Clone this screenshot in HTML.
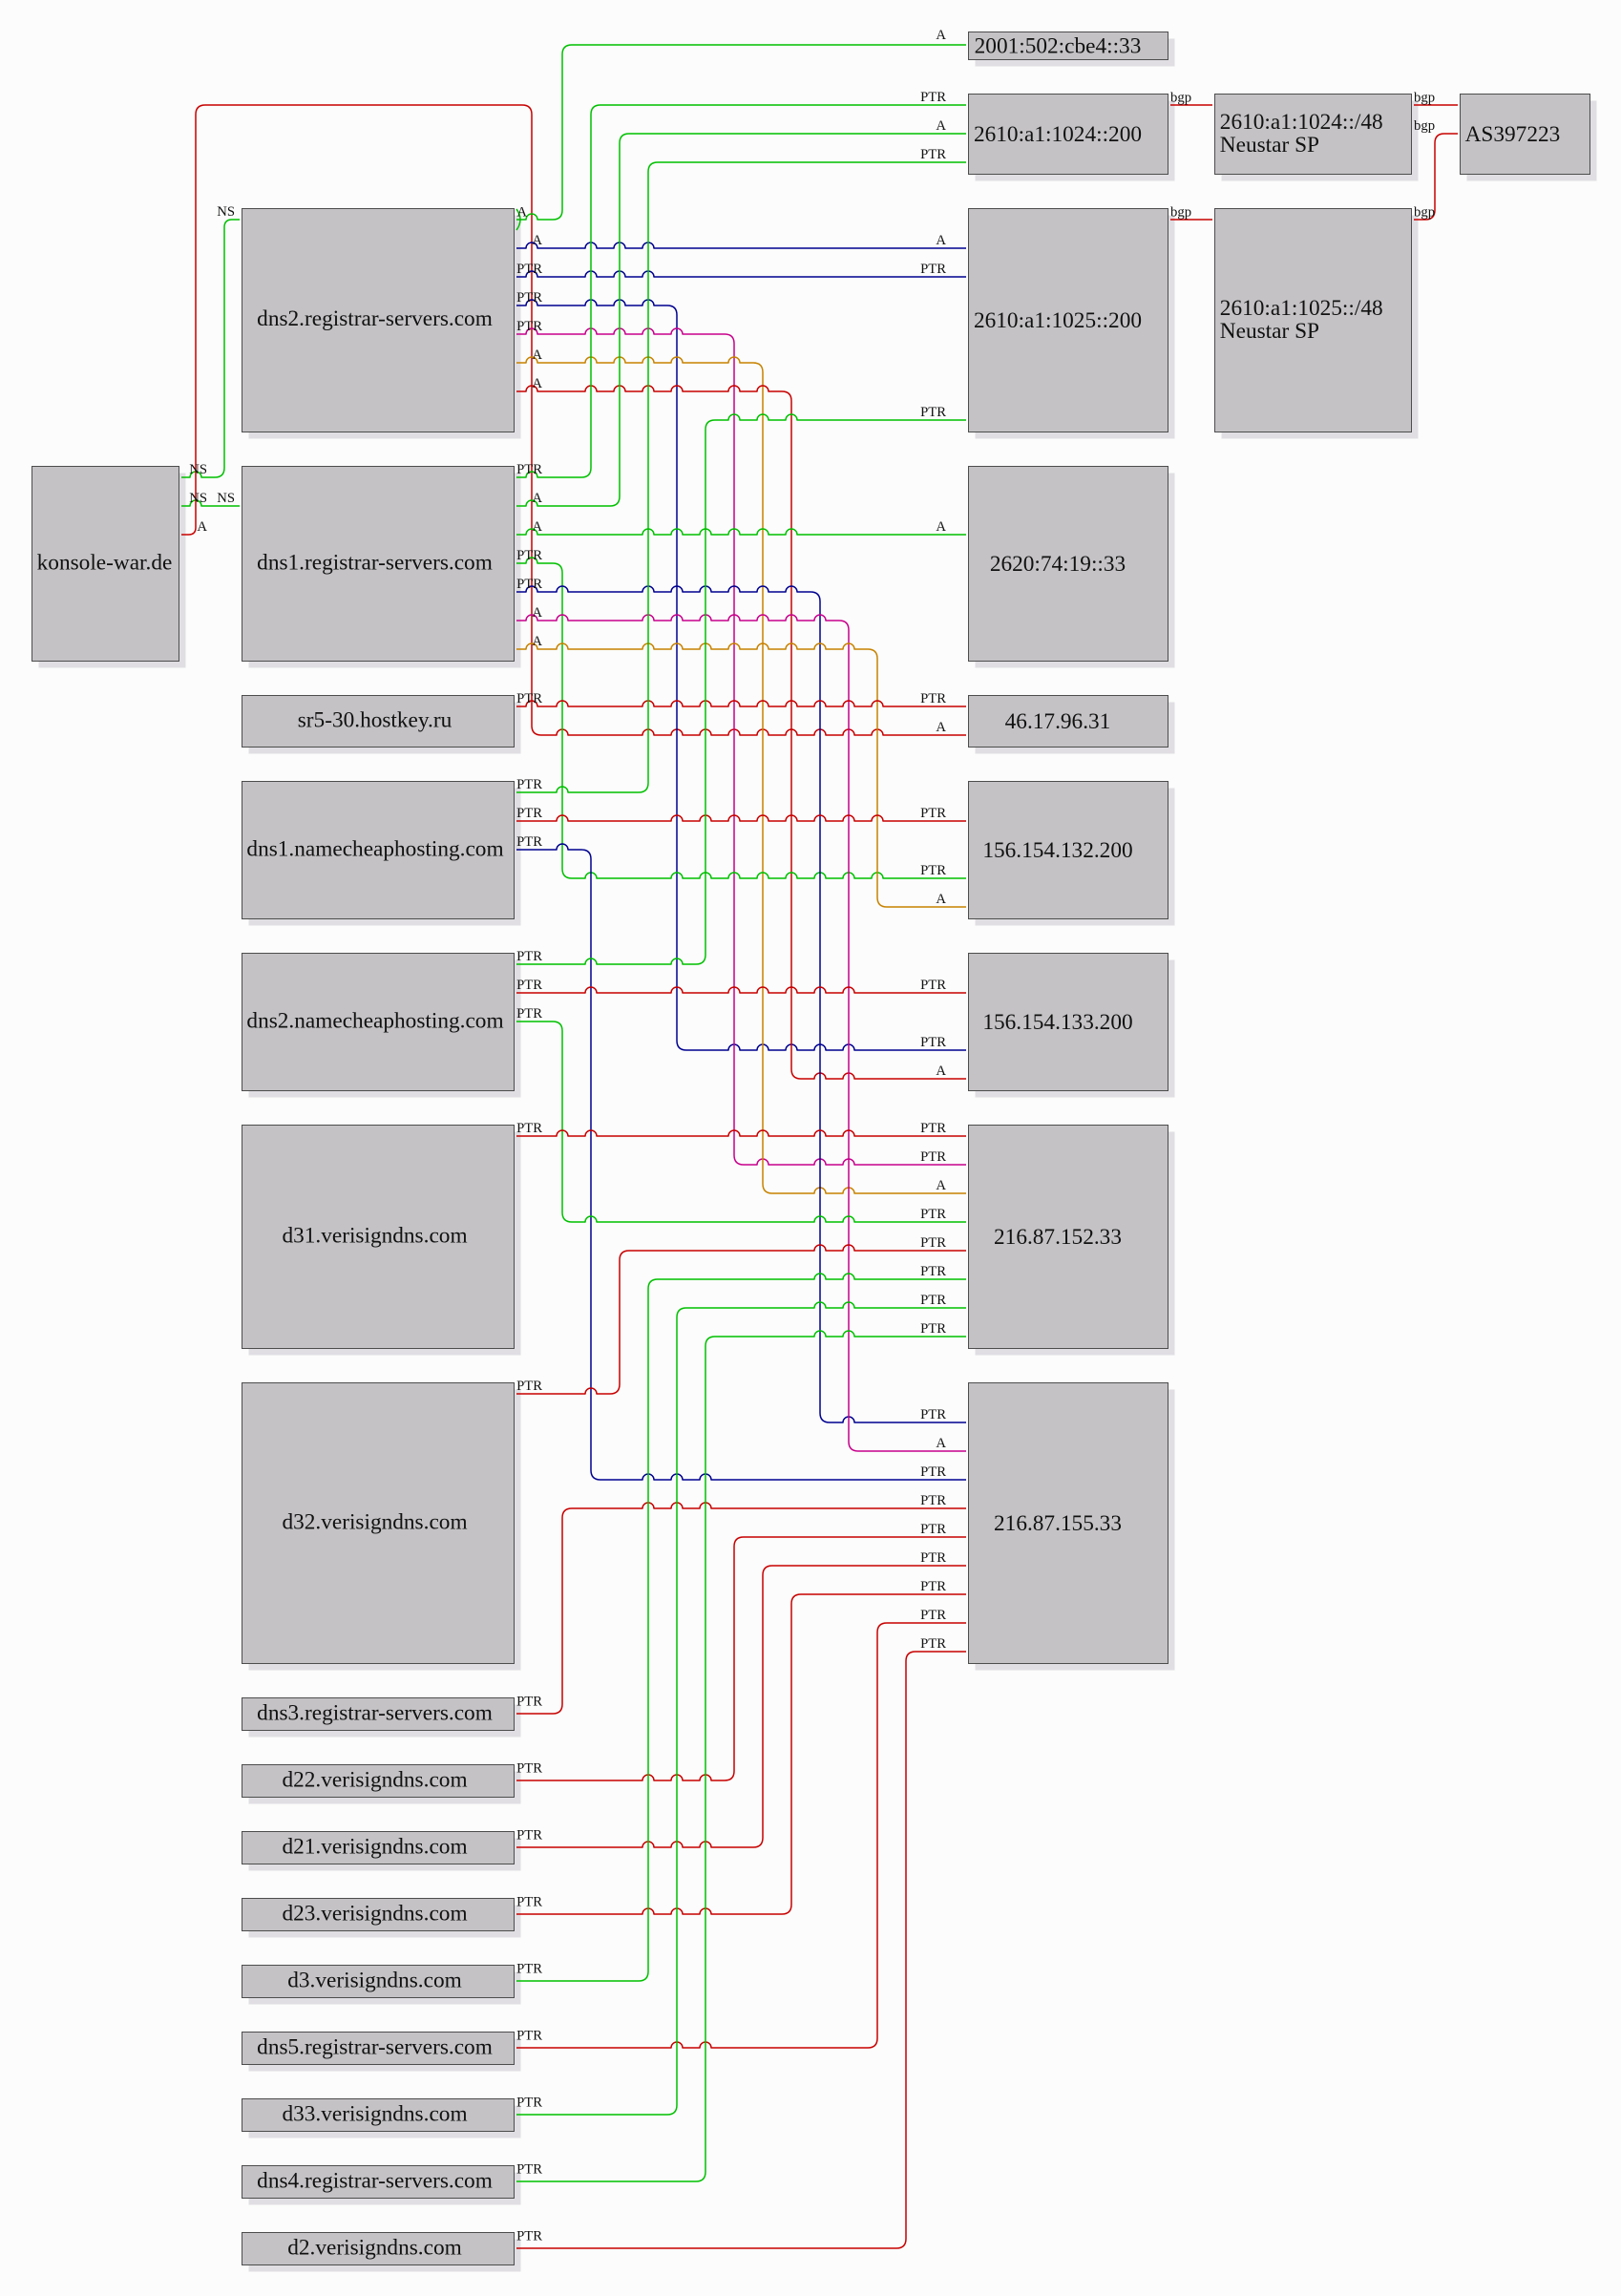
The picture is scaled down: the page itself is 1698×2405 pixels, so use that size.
<!DOCTYPE html>
<html>
<head>
<meta charset="utf-8">
<style>
html,body{margin:0;padding:0;background:#fbfcfb;}
svg{display:block;}
.bt{font-family:"Liberation Serif",serif;font-size:23.3px;fill:#111;}
.lb{font-family:"Liberation Serif",serif;font-size:14.7px;fill:#111;}
</style>
</head>
<body>
<svg id="svg" width="1698" height="2405" viewBox="0 0 1698 2405" xmlns="http://www.w3.org/2000/svg">
<rect x="0" y="0" width="1698" height="2405" fill="#fbfcfb"/>
<g fill="#e0dee3">
<rect x="40.5" y="495.5" width="154" height="204"/>
<rect x="260.5" y="225.5" width="285" height="234"/>
<rect x="260.5" y="495.5" width="285" height="204"/>
<rect x="260.5" y="735.5" width="285" height="54"/>
<rect x="260.5" y="825.5" width="285" height="144"/>
<rect x="260.5" y="1005.5" width="285" height="144"/>
<rect x="260.5" y="1185.5" width="285" height="234"/>
<rect x="260.5" y="1455.5" width="285" height="294"/>
<rect x="260.5" y="1785.5" width="285" height="34"/>
<rect x="260.5" y="1855.5" width="285" height="34"/>
<rect x="260.5" y="1925.5" width="285" height="34"/>
<rect x="260.5" y="1995.5" width="285" height="34"/>
<rect x="260.5" y="2065.5" width="285" height="34"/>
<rect x="260.5" y="2135.5" width="285" height="34"/>
<rect x="260.5" y="2205.5" width="285" height="34"/>
<rect x="260.5" y="2275.5" width="285" height="34"/>
<rect x="260.5" y="2345.5" width="285" height="34"/>
<rect x="1021.5" y="40.5" width="209" height="29"/>
<rect x="1021.5" y="105.5" width="209" height="84"/>
<rect x="1021.5" y="225.5" width="209" height="234"/>
<rect x="1021.5" y="495.5" width="209" height="204"/>
<rect x="1021.5" y="735.5" width="209" height="54"/>
<rect x="1021.5" y="825.5" width="209" height="144"/>
<rect x="1021.5" y="1005.5" width="209" height="144"/>
<rect x="1021.5" y="1185.5" width="209" height="234"/>
<rect x="1021.5" y="1455.5" width="209" height="294"/>
<rect x="1279.5" y="105.5" width="206" height="84"/>
<rect x="1279.5" y="225.5" width="206" height="234"/>
<rect x="1536.5" y="105.5" width="136" height="84"/>
</g>
<g fill="#c4c2c5" stroke="#4d4d4d" stroke-width="1">
<rect x="33.5" y="488.5" width="154" height="204"/>
<rect x="253.5" y="218.5" width="285" height="234"/>
<rect x="253.5" y="488.5" width="285" height="204"/>
<rect x="253.5" y="728.5" width="285" height="54"/>
<rect x="253.5" y="818.5" width="285" height="144"/>
<rect x="253.5" y="998.5" width="285" height="144"/>
<rect x="253.5" y="1178.5" width="285" height="234"/>
<rect x="253.5" y="1448.5" width="285" height="294"/>
<rect x="253.5" y="1778.5" width="285" height="34"/>
<rect x="253.5" y="1848.5" width="285" height="34"/>
<rect x="253.5" y="1918.5" width="285" height="34"/>
<rect x="253.5" y="1988.5" width="285" height="34"/>
<rect x="253.5" y="2058.5" width="285" height="34"/>
<rect x="253.5" y="2128.5" width="285" height="34"/>
<rect x="253.5" y="2198.5" width="285" height="34"/>
<rect x="253.5" y="2268.5" width="285" height="34"/>
<rect x="253.5" y="2338.5" width="285" height="34"/>
<rect x="1014.5" y="33.5" width="209" height="29"/>
<rect x="1014.5" y="98.5" width="209" height="84"/>
<rect x="1014.5" y="218.5" width="209" height="234"/>
<rect x="1014.5" y="488.5" width="209" height="204"/>
<rect x="1014.5" y="728.5" width="209" height="54"/>
<rect x="1014.5" y="818.5" width="209" height="144"/>
<rect x="1014.5" y="998.5" width="209" height="144"/>
<rect x="1014.5" y="1178.5" width="209" height="234"/>
<rect x="1014.5" y="1448.5" width="209" height="294"/>
<rect x="1272.5" y="98.5" width="206" height="84"/>
<rect x="1272.5" y="218.5" width="206" height="234"/>
<rect x="1529.5" y="98.5" width="136" height="84"/>
</g>
<g id="edges" fill="none" stroke-width="1.5" stroke-linejoin="round"></g>
<path d="M541 241 Q549 230 541 219" fill="none" stroke="#00c000" stroke-width="1.5"/>

<g class="bt" text-anchor="middle">
<text x="109.5" y="596.5">konsole-war.de</text>
<text x="392.5" y="341">dns2.registrar-servers.com</text>
<text x="392.5" y="596.5">dns1.registrar-servers.com</text>
<text x="392.5" y="761.5">sr5-30.hostkey.ru</text>
<text x="393" y="896.5">dns1.namecheaphosting.com</text>
<text x="393" y="1076.5">dns2.namecheaphosting.com</text>
<text x="392.5" y="1301.5">d31.verisigndns.com</text>
<text x="392.5" y="1601.5">d32.verisigndns.com</text>
<text x="392.5" y="1801.5">dns3.registrar-servers.com</text>
<text x="392.5" y="1871.5">d22.verisigndns.com</text>
<text x="392.5" y="1941.5">d21.verisigndns.com</text>
<text x="392.5" y="2011.5">d23.verisigndns.com</text>
<text x="392.5" y="2081.5">d3.verisigndns.com</text>
<text x="392.5" y="2151.5">dns5.registrar-servers.com</text>
<text x="392.5" y="2221.5">d33.verisigndns.com</text>
<text x="392.5" y="2291.5">dns4.registrar-servers.com</text>
<text x="392.5" y="2361.5">d2.verisigndns.com</text>
<text x="1108" y="55.5">2001:502:cbe4::33</text>
<text x="1108" y="148">2610:a1:1024::200</text>
<text x="1108" y="342.8">2610:a1:1025::200</text>
<text x="1108" y="598">2620:74:19::33</text>
<text x="1108" y="762.9">46.17.96.31</text>
<text x="1108" y="897.9">156.154.132.200</text>
<text x="1108" y="1077.9">156.154.133.200</text>
<text x="1108" y="1302.9">216.87.152.33</text>
<text x="1108" y="1602.9">216.87.155.33</text>
</g>
<g class="bt">
<text x="1277.8" y="135">2610:a1:1024::/48</text>
<text x="1277.8" y="159">Neustar SP</text>
<text x="1277.8" y="330">2610:a1:1025::/48</text>
<text x="1277.8" y="354">Neustar SP</text>
<text x="1534.6" y="148">AS397223</text>
</g>

<g class="lb" text-anchor="end">
<text x="552" y="226.5">A</text>
<text x="568" y="256">A</text>
<text x="568" y="286">PTR</text>
<text x="568" y="316">PTR</text>
<text x="568" y="346">PTR</text>
<text x="568" y="376">A</text>
<text x="568" y="406">A</text>
<text x="568" y="496">PTR</text>
<text x="568" y="526">A</text>
<text x="568" y="556">A</text>
<text x="568" y="586">PTR</text>
<text x="568" y="616">PTR</text>
<text x="568" y="646">A</text>
<text x="568" y="676">A</text>
<text x="568" y="736">PTR</text>
<text x="568" y="826">PTR</text>
<text x="568" y="856">PTR</text>
<text x="568" y="886">PTR</text>
<text x="568" y="1006">PTR</text>
<text x="568" y="1036">PTR</text>
<text x="568" y="1066">PTR</text>
<text x="568" y="1186">PTR</text>
<text x="568" y="1456">PTR</text>
<text x="568" y="1786.5">PTR</text>
<text x="568" y="1856.5">PTR</text>
<text x="568" y="1926.5">PTR</text>
<text x="568" y="1996.5">PTR</text>
<text x="568" y="2066.5">PTR</text>
<text x="568" y="2136.5">PTR</text>
<text x="568" y="2206.5">PTR</text>
<text x="568" y="2276.5">PTR</text>
<text x="568" y="2346.5">PTR</text>
<text x="217" y="496">NS</text>
<text x="217" y="526">NS</text>
<text x="217" y="556">A</text>
<text x="246" y="226">NS</text>
<text x="246" y="526">NS</text>
<text x="991" y="41">A</text>
<text x="991" y="106">PTR</text>
<text x="991" y="136">A</text>
<text x="991" y="166">PTR</text>
<text x="991" y="256">A</text>
<text x="991" y="286">PTR</text>
<text x="991" y="436">PTR</text>
<text x="991" y="556">A</text>
<text x="991" y="736">PTR</text>
<text x="991" y="766">A</text>
<text x="991" y="856">PTR</text>
<text x="991" y="916">PTR</text>
<text x="991" y="946">A</text>
<text x="991" y="1036">PTR</text>
<text x="991" y="1096">PTR</text>
<text x="991" y="1126">A</text>
<text x="991" y="1186">PTR</text>
<text x="991" y="1216">PTR</text>
<text x="991" y="1246">A</text>
<text x="991" y="1276">PTR</text>
<text x="991" y="1306">PTR</text>
<text x="991" y="1336">PTR</text>
<text x="991" y="1366">PTR</text>
<text x="991" y="1396">PTR</text>
<text x="991" y="1486">PTR</text>
<text x="991" y="1516">A</text>
<text x="991" y="1546">PTR</text>
<text x="991" y="1576">PTR</text>
<text x="991" y="1606">PTR</text>
<text x="991" y="1636">PTR</text>
<text x="991" y="1666">PTR</text>
<text x="991" y="1696">PTR</text>
<text x="991" y="1726">PTR</text>
</g>
<g class="lb">
<text x="1226" y="106.5">bgp</text>
<text x="1226" y="226.5">bgp</text>
<text x="1481" y="106.5">bgp</text>
<text x="1481" y="136">bgp</text>
<text x="1481" y="226.5">bgp</text>
</g>
</svg>
<script>
(function(){
var G='#00c000',B='#000090',M='#c8008c',O='#c88200',R='#c80000';
var E=[
[G,[[190,500],[235,500],[235,230],[251,230]]],
[G,[[190,530],[251,530]]],
[R,[[190,560],[205,560],[205,110],[557,110],[557,770],[1012,770]]],
[G,[[541,230],[589,230],[589,47],[1012,47]]],
[B,[[541,260],[1012,260]]],
[B,[[541,290],[1012,290]]],
[B,[[541,320],[709,320],[709,1100],[1012,1100]]],
[M,[[541,350],[769,350],[769,1220],[1012,1220]]],
[O,[[541,380],[799,380],[799,1250],[1012,1250]]],
[R,[[541,410],[829,410],[829,1130],[1012,1130]]],
[G,[[541,500],[619,500],[619,110],[1012,110]]],
[G,[[541,530],[649,530],[649,140],[1012,140]]],
[G,[[541,560],[1012,560]]],
[G,[[541,590],[589,590],[589,920],[1012,920]]],
[B,[[541,620],[859,620],[859,1490],[1012,1490]]],
[M,[[541,650],[889,650],[889,1520],[1012,1520]]],
[O,[[541,680],[919,680],[919,950],[1012,950]]],
[R,[[541,740],[1012,740]]],
[G,[[541,830],[679,830],[679,170],[1012,170]]],
[R,[[541,860],[1012,860]]],
[B,[[541,890],[619,890],[619,1550],[1012,1550]]],
[G,[[541,1010],[739,1010],[739,440],[1012,440]]],
[R,[[541,1040],[1012,1040]]],
[G,[[541,1070],[589,1070],[589,1280],[1012,1280]]],
[R,[[541,1190],[1012,1190]]],
[R,[[541,1460],[649,1460],[649,1310],[1012,1310]]],
[R,[[541,1795],[589,1795],[589,1580],[1012,1580]]],
[R,[[541,1865],[769,1865],[769,1610],[1012,1610]]],
[R,[[541,1935],[799,1935],[799,1640],[1012,1640]]],
[R,[[541,2005],[829,2005],[829,1670],[1012,1670]]],
[G,[[541,2075],[679,2075],[679,1340],[1012,1340]]],
[R,[[541,2145],[919,2145],[919,1700],[1012,1700]]],
[G,[[541,2215],[709,2215],[709,1370],[1012,1370]]],
[G,[[541,2285],[739,2285],[739,1400],[1012,1400]]],
[R,[[541,2355],[949,2355],[949,1730],[1012,1730]]],
[R,[[1226,110],[1270,110]]],
[R,[[1226,230],[1270,230]]],
[R,[[1481,110],[1527,110]]],
[R,[[1481,230],[1503,230],[1503,140],[1527,140]]]
];
var vs=[];
E.forEach(function(e,i){var p=e[1];for(var k=0;k<p.length-1;k++){var a=p[k],b=p[k+1];if(a[0]===b[0])vs.push({i:i,x:a[0],y1:Math.min(a[1],b[1]),y2:Math.max(a[1],b[1])});}});
function len(a,b){return Math.abs(a[0]-b[0])+Math.abs(a[1]-b[1]);}
var R0=10,H=6;
var g=document.getElementById('edges');
var NS='http://www.w3.org/2000/svg';
E.forEach(function(e,i){
 var p=e[1],n=p.length,rad=[];
 for(var k=1;k<n-1;k++){rad[k]=Math.min(R0,len(p[k-1],p[k])/2,len(p[k],p[k+1])/2);}
 var d='M'+p[0][0]+' '+p[0][1];
 for(var k=0;k<n-1;k++){
  var a=p[k],b=p[k+1];
  var sa=k>0?rad[k]:0,sb=k<n-2?rad[k+1]:0;
  var dx=Math.sign(b[0]-a[0]),dy=Math.sign(b[1]-a[1]);
  var s=[a[0]+dx*sa,a[1]+dy*sa],t=[b[0]-dx*sb,b[1]-dy*sb];
  if(dy===0){
   var y=a[1],lo=Math.min(s[0],t[0]),hi=Math.max(s[0],t[0]);
   var xs=vs.filter(function(v){return v.i!==i&&v.x>lo+H&&v.x<hi-H&&y>v.y1+0.5&&y<v.y2-0.5;}).map(function(v){return v.x;});
   xs.sort(function(u,w){return dx*(u-w);});
   xs.forEach(function(x){d+=' L'+(x-dx*H)+' '+y+' A'+H+' '+H+' 0 0 '+(dx>0?1:0)+' '+(x+dx*H)+' '+y;});
  }
  d+=' L'+t[0]+' '+t[1];
  if(k<n-2){var c=p[k+1],nx=p[k+2];var dx2=Math.sign(nx[0]-c[0]),dy2=Math.sign(nx[1]-c[1]);var r=rad[k+1];d+=' Q'+c[0]+' '+c[1]+' '+(c[0]+dx2*r)+' '+(c[1]+dy2*r);}
 }
 var el=document.createElementNS(NS,'path');
 el.setAttribute('d',d);el.setAttribute('stroke',e[0]);
 g.appendChild(el);
});
})();
</script>
</body>
</html>
